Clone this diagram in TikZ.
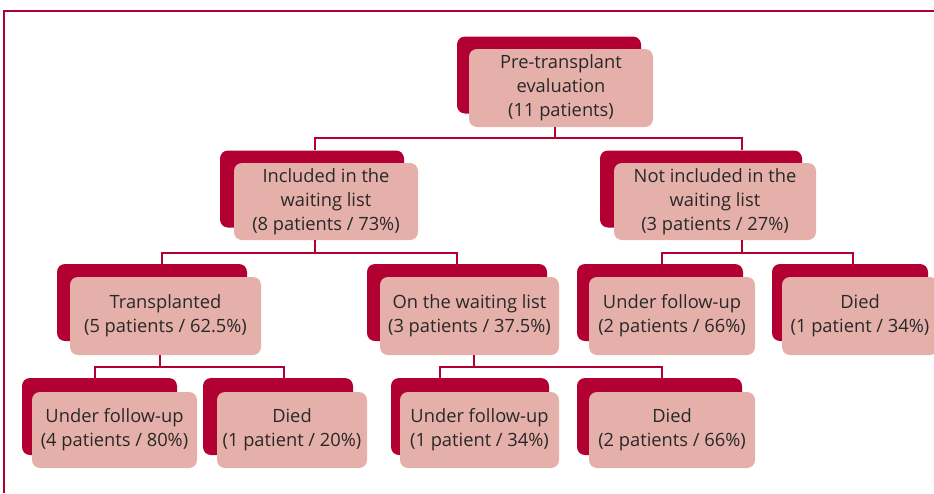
\documentclass[tikz,border=0pt]{standalone}
\usepackage{fontspec}
\setmainfont{Open Sans}
\definecolor{crimson}{RGB}{179,0,51}
\definecolor{rosebox}{RGB}{230,176,170}
\definecolor{inkgray}{RGB}{40,40,40}
\begin{document}
\begin{tikzpicture}[x=1pt, y=-1pt,
    box/.style={fill=rosebox, text=inkgray, rounded corners=8pt, align=center, inner sep=0pt,
                font=\fontsize{18.3}{24}\selectfont},
    shadowbox/.style={fill=crimson, rounded corners=8pt, inner sep=0pt},
    link/.style={draw=crimson, line width=1.8pt}]
    \useasboundingbox (0,0) rectangle (934,493);
    \draw[crimson, line width=2.2pt] (4,493) -- (4,11) -- (940,11);

    \node[shadowbox, minimum width=184pt, minimum height=77pt] (pre-b) at (549,75) {};
    \node[box, minimum width=184pt, minimum height=78pt] (pre) at (561,88) {Pre-transplant\\evaluation\\(11 patients)};

    \node[shadowbox, minimum width=184pt, minimum height=77pt] (incl-b) at (312,189) {};
    \node[box, minimum width=184pt, minimum height=77pt] (incl) at (326,201.5) {Included in the\\waiting list\\(8 patients / 73\%)};
    \node[shadowbox, minimum width=202pt, minimum height=77pt] (notincl-b) at (701,189) {};
    \node[box, minimum width=202pt, minimum height=77pt] (notincl) at (715,201.5) {Not included in the\\waiting list\\(3 patients / 27\%)};

    \node[shadowbox, minimum width=190pt, minimum height=77pt] (tx-b) at (152,302.5) {};
    \node[box, minimum width=191pt, minimum height=78pt] (tx) at (165.5,316) {Transplanted\\(5 patients / 62.5\%)};
    \node[shadowbox, minimum width=180pt, minimum height=77pt] (wait-b) at (457,302.5) {};
    \node[box, minimum width=179pt, minimum height=78pt] (wait) at (469.5,316) {On the waiting list\\(3 patients / 37.5\%)};
    \node[shadowbox, minimum width=166pt, minimum height=77pt] (fu2-b) at (660,302.5) {};
    \node[box, minimum width=166pt, minimum height=78pt] (fu2) at (672,316) {Under follow-up\\(2 patients / 66\%)};
    \node[shadowbox, minimum width=156pt, minimum height=77pt] (died2-b) at (850,302.5) {};
    \node[box, minimum width=156pt, minimum height=78pt] (died2) at (860,316) {Died\\(1 patient / 34\%)};

    \node[shadowbox, minimum width=155pt, minimum height=77pt] (fu1-b) at (99.5,416.5) {};
    \node[box, minimum width=165pt, minimum height=76pt] (fu1) at (114.5,430) {Under follow-up\\(4 patients / 80\%)};
    \node[shadowbox, minimum width=150pt, minimum height=77pt] (died1-b) at (278,416.5) {};
    \node[box, minimum width=150pt, minimum height=76pt] (died1) at (292,430) {Died\\(1 patient / 20\%)};
    \node[shadowbox, minimum width=158pt, minimum height=77pt] (fu3-b) at (470,416.5) {};
    \node[box, minimum width=159pt, minimum height=76pt] (fu3) at (479.5,430) {Under follow-up\\(1 patient / 34\%)};
    \node[shadowbox, minimum width=165pt, minimum height=77pt] (died3-b) at (659.5,416.5) {};
    \node[box, minimum width=166pt, minimum height=76pt] (died3) at (672,430) {Died\\(2 patients / 66\%)};

    \draw[link] ([xshift=-6pt]pre.south) -- ++(0,11) -| ([xshift=3pt]incl-b.north);
    \draw[link] ([xshift=-6pt]pre.south) -- ++(0,11) -| ([xshift=41pt]notincl-b.north);
    \draw[link] ([xshift=-11pt]incl.south) -- ++(0,12.5) -| ([xshift=10pt]tx-b.north);
    \draw[link] ([xshift=-11pt]incl.south) -- ++(0,12.5) -| (wait-b.north);
    \draw[link] ([xshift=27pt]notincl.south) -- ++(0,12.5) -| ([xshift=2pt]fu2-b.north);
    \draw[link] ([xshift=27pt]notincl.south) -- ++(0,12.5) -| ([xshift=3pt]died2-b.north);
    \draw[link] ([xshift=-5.5pt]tx.south) -- ++(0,11.5) -| ([xshift=-4.5pt]fu1-b.north);
    \draw[link] ([xshift=-5.5pt]tx.south) -- ++(0,11.5) -| ([xshift=6pt]died1-b.north);
    \draw[link] ([xshift=4.5pt]wait.south) -- ++(0,11.5) -| ([xshift=-30pt]fu3-b.north);
    \draw[link] ([xshift=4.5pt]wait.south) -- ++(0,11.5) -| ([xshift=2.5pt]died3-b.north);
\end{tikzpicture}
\end{document}
